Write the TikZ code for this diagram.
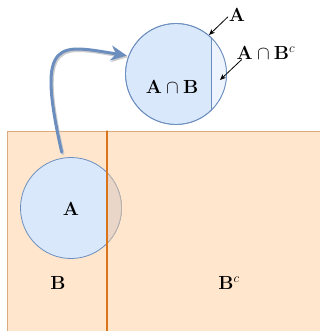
\RequirePackage{fix-cm}
\documentclass[tikz,border=0pt]{standalone}
\usepackage{amsmath}
\usetikzlibrary{arrows.meta}
\definecolor{bluefill}{HTML}{DAE8FC}
\definecolor{bluestroke}{HTML}{6C8EBF}
\definecolor{paleblue}{HTML}{EEF4FD}
\definecolor{orfill}{HTML}{FFE6CC}
\definecolor{orborder}{HTML}{DBAA7E}
\definecolor{orline}{HTML}{D9741C}
\definecolor{mixfill}{HTML}{E9D6C8}
\definecolor{mixstroke}{HTML}{B9B0AA}
\tikzset{
  lbl/.style={font=\fontsize{19}{22}\selectfont, inner sep=0pt},
  setcirc/.style={circle, minimum size=101pt, inner sep=0pt, outer sep=0pt, draw=bluestroke, fill=bluefill, line width=0.8pt},
  pointer/.style={-{Stealth[length=6pt,width=5pt]}, line width=0.8pt},
  bigarrow/.style={-{Stealth[length=16pt,width=15pt,inset=5pt]}, line width=3pt}
}
\begin{document}
\begin{tikzpicture}[x=1pt, y=-1pt, line cap=round, line join=round]
  \clip (0,0) rectangle (320,331);
  \fill[white] (0,0) rectangle (320,331);
  \filldraw[fill=orfill, draw=orborder, line width=1pt] (7,131) rectangle (340,350);
  \node[setcirc] (cA) at (71,208) {};
  \begin{scope}
    \clip (107,131) rectangle (340,350);
    \fill[mixfill] (cA.center) circle (50.5pt);
    \draw[mixstroke, line width=0.8pt] (cA.center) circle (50.5pt);
  \end{scope}
  \draw[orline, line width=1.3pt] (107,131) -- (107,331);
  \node[lbl] (lblA) at (71,209) {$\mathbf{A}$};
  \node[lbl] (lblB) at (58,283) {$\mathbf{B}$};
  \node[lbl] (lblBc) at (229,283) {$\mathbf{B}^c$};
  \node[setcirc] (cAB) at (176,74) {};
  \begin{scope}
    \clip (211,0) rectangle (240,140);
    \fill[paleblue] (cAB.center) circle (50.5pt);
  \end{scope}
  \draw[bluestroke, line width=0.8pt] (cAB.center) circle (50.5pt);
  \draw[bluestroke, line width=0.8pt] (211,37.6) -- (211,110.4);
  \node[lbl] (lblAB) at (172,87) {$\mathbf{A}\cap\mathbf{B}$};
  \node[lbl] (tagA) at (237,15) {$\mathbf{A}$};
  \node[lbl] (tagAc) at (266,53) {$\mathbf{A}\cap\mathbf{B}^c$};
  \coordinate (hitA) at (209,35);
  \coordinate (hitAc) at (220,80);
  \draw[pointer] ([xshift=-1pt,yshift=-2pt]tagA.west) -- (hitA);
  \draw[pointer] ([xshift=5pt]tagAc.south west) -- (hitAc);
  \draw[bigarrow, black!20, shorten <=6pt, shorten >=2pt, transform canvas={xshift=1.2pt,yshift=-1.5pt}]
    (cA.99) .. controls (35,35) and (60,45) .. (cAB.159);
  \draw[bigarrow, bluestroke, shorten <=6pt, shorten >=2pt]
    (cA.99) .. controls (35,35) and (60,45) .. (cAB.159);
\end{tikzpicture}
\end{document}
